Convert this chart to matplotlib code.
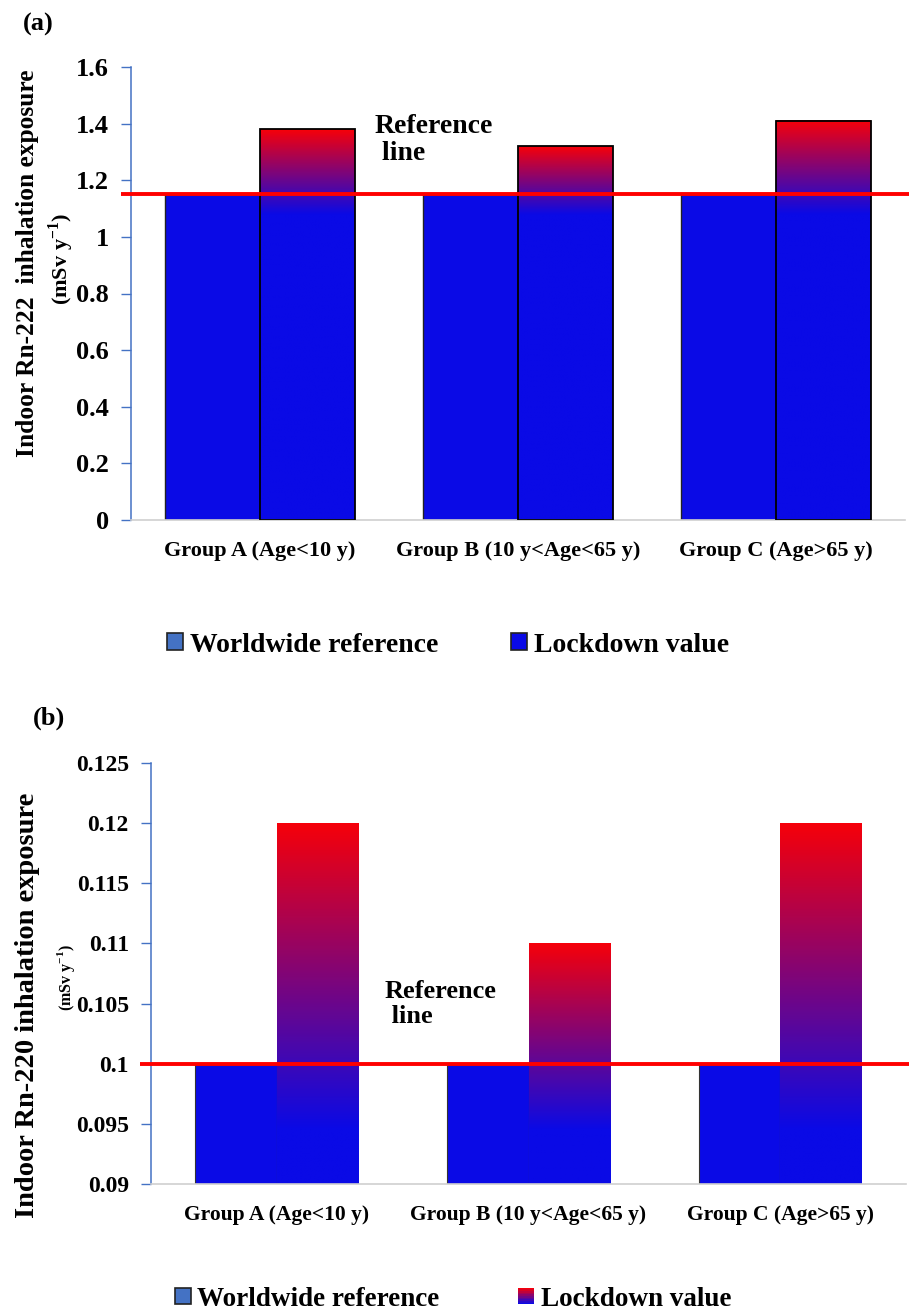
import numpy as np
import matplotlib
matplotlib.use("Agg")
import matplotlib.pyplot as plt
from matplotlib.patches import Patch, Rectangle
from matplotlib.legend_handler import HandlerBase
from matplotlib.colors import LinearSegmentedColormap

plt.rcParams['font.family'] = ['Liberation Serif', 'DejaVu Serif']
plt.rcParams['font.weight'] = 'bold'
plt.rcParams['mathtext.fontset'] = 'custom'
plt.rcParams['mathtext.rm'] = 'Liberation Serif:bold'
plt.rcParams['mathtext.bf'] = 'Liberation Serif:bold'
plt.rcParams['axes.unicode_minus'] = False

# ---- data ----
groups = ["Group A (Age<10 y)", "Group B (10 y<Age<65 y)", "Group C (Age>65 y)"]
rn222_worldwide = [1.15, 1.15, 1.15]
rn222_lockdown = [1.38, 1.32, 1.41]
rn222_reference = 1.15
rn222_yticks = [0, 0.2, 0.4, 0.6, 0.8, 1.0, 1.2, 1.4, 1.6]
rn222_yticklabels = ["0", "0.2", "0.4", "0.6", "0.8", "1", "1.2", "1.4", "1.6"]

rn220_worldwide = [0.1, 0.1, 0.1]
rn220_lockdown = [0.12, 0.11, 0.12]
rn220_reference = 0.1
rn220_yticks = [0.09, 0.095, 0.1, 0.105, 0.11, 0.115, 0.12, 0.125]
rn220_yticklabels = ["0.09", "0.095", "0.1", "0.105", "0.11", "0.115", "0.12", "0.125"]

legend_labels = ["Worldwide reference", "Lockdown value"]

BLUE = "#0a0ae6"
RED = "#f5000a"
AXBLUE = "#4472c4"
cmap = LinearSegmentedColormap.from_list("rb", [BLUE, RED])

W, H = 909, 1312
fig = plt.figure(figsize=(W / 100, H / 100), dpi=100)


def fx(px):
    return px / W


def fy(py):
    return 1 - py / H


class GradHandle:
    pass


class HandlerGradient(HandlerBase):
    def create_artists(self, legend, orig_handle, xdescent, ydescent, width, height, fontsize, trans):
        arts = []
        n = 10
        for i in range(n):
            r = Rectangle((-xdescent, -ydescent + height * i / n), width, height / n + 0.01,
                          facecolor=cmap(i / (n - 1)), edgecolor='none', transform=trans)
            arts.append(r)
        return arts


def panel(rect, world, lock, ref, yticks, yticklabels, ylim, width, blue_stop,
          lock_edge, world_edge, tick_fs, xlab_fs, xpad, ref_x0):
    ax = fig.add_axes(rect)
    x = np.arange(len(groups))
    xlim = (-0.5, len(groups) - 0.5)
    xw = x - width / 2
    xl = x + width / 2
    ax.bar(xw, [w - ylim[0] for w in world], width, bottom=ylim[0], color=BLUE,
           edgecolor=world_edge[0], linewidth=world_edge[1], zorder=2)
    for xi, v in zip(xl, lock):
        # gradient: blue below blue_stop, blending to red at bar top
        ys = np.linspace(ylim[0], v, 256)
        t = np.clip((ys - blue_stop) / (v - blue_stop), 0, 1).reshape(-1, 1)
        ax.imshow(t, cmap=cmap, vmin=0, vmax=1, origin='lower', aspect='auto',
                  extent=(xi - width / 2, xi + width / 2, ylim[0], v), zorder=2,
                  interpolation='bilinear')
    ax.bar(xl, [v - ylim[0] for v in lock], width, bottom=ylim[0], facecolor='none',
           edgecolor=lock_edge[0], linewidth=lock_edge[1], zorder=3)
    ax.set_xlim(*xlim)
    ax.set_ylim(*ylim)
    ax.plot([xlim[0] - ref_x0, xlim[1] + 0.03], [ref, ref], color='#ff0000', lw=2.8,
            zorder=4, clip_on=False, solid_capstyle='butt')
    ax.set_yticks(yticks)
    ax.set_yticklabels(yticklabels, fontsize=tick_fs, fontweight='bold')
    ax.set_xticks(x)
    ax.set_xticklabels(groups, fontsize=xlab_fs, fontweight='bold')
    ax.tick_params(axis='x', length=0, pad=xpad)
    ax.tick_params(axis='y', direction='out', length=7, width=1, color=AXBLUE, pad=9)
    for s in ('top', 'right'):
        ax.spines[s].set_visible(False)
    ax.spines['left'].set_color(AXBLUE)
    ax.spines['left'].set_linewidth(1.1)
    ax.spines['bottom'].set_color('#d0d0d0')
    ax.spines['bottom'].set_linewidth(1.2)
    ax.set_facecolor('none')
    return ax


# ---- panel (a) ----
ax_a = panel([fx(131), fy(520), fx(905) - fx(131), fy(67) - fy(520)],
             rn222_worldwide, rn222_lockdown, rn222_reference, rn222_yticks, rn222_yticklabels,
             (0, 1.6), 0.368, 1.08, ('black', 1.3), ('#222222', 1.0), 19, 16, 15, 0.038)

fig.text(fx(38), fy(24), "(a)", fontsize=19, fontweight='bold', ha='center', va='center')
fig.text(fx(28), fy(263), "Indoor Rn-222  inhalation exposure", rotation=90, fontsize=18.4,
         fontweight='bold', ha='center', va='center')
fig.text(fx(61), fy(259), r"(mSv y$^{\mathbf{-1}}$)", rotation=90, fontsize=16,
         fontweight='bold', ha='center', va='center')
fig.text(fx(375), fy(140), "Reference\n line", fontsize=20, fontweight='bold',
         ha='left', va='center', linespacing=1.15)

leg_a = [Patch(facecolor=AXBLUE, edgecolor='#222222', linewidth=1.2),
         Patch(facecolor=BLUE, edgecolor='#222222', linewidth=1.2)]
fig.legend(leg_a, legend_labels, loc='center',
           bbox_to_anchor=(fx(448), fy(645)), ncol=2, frameon=False,
           handlelength=0.58, handleheight=0.58, handletextpad=0.25, columnspacing=2.6,
           prop={'weight': 'bold', 'size': 20})

# ---- panel (b) ----
ax_b = panel([fx(151), fy(1184), fx(906) - fx(151), fy(763) - fy(1184)],
             rn220_worldwide, rn220_lockdown, rn220_reference, rn220_yticks, rn220_yticklabels,
             (0.09, 0.125), 0.324, 0.0945, ('none', 0), ('#333333', 0.8), 17, 15.5, 15, 0.045)

fig.text(fx(49), fy(718), "(b)", fontsize=19, fontweight='bold', ha='center', va='center')
fig.text(fx(28), fy(1005), "Indoor Rn-220 inhalation exposure", rotation=90, fontsize=20.5,
         fontweight='bold', ha='center', va='center')
fig.text(fx(66), fy(978), r"(mSv y$^{\mathbf{-1}}$)", rotation=90, fontsize=11.5,
         fontweight='bold', ha='center', va='center')
fig.text(fx(385), fy(1004), "Reference\n line", fontsize=19, fontweight='bold',
         ha='left', va='center', linespacing=1.15)

fig.legend([Patch(facecolor=AXBLUE, edgecolor='#222222', linewidth=1.2), GradHandle()],
           legend_labels, loc='center',
           bbox_to_anchor=(fx(453), fy(1299)), ncol=2, frameon=False,
           handlelength=0.58, handleheight=0.58, handletextpad=0.25, columnspacing=2.9,
           prop={'weight': 'bold', 'size': 19.5},
           handler_map={GradHandle: HandlerGradient()})

fig.savefig("out.png", dpi=100)
